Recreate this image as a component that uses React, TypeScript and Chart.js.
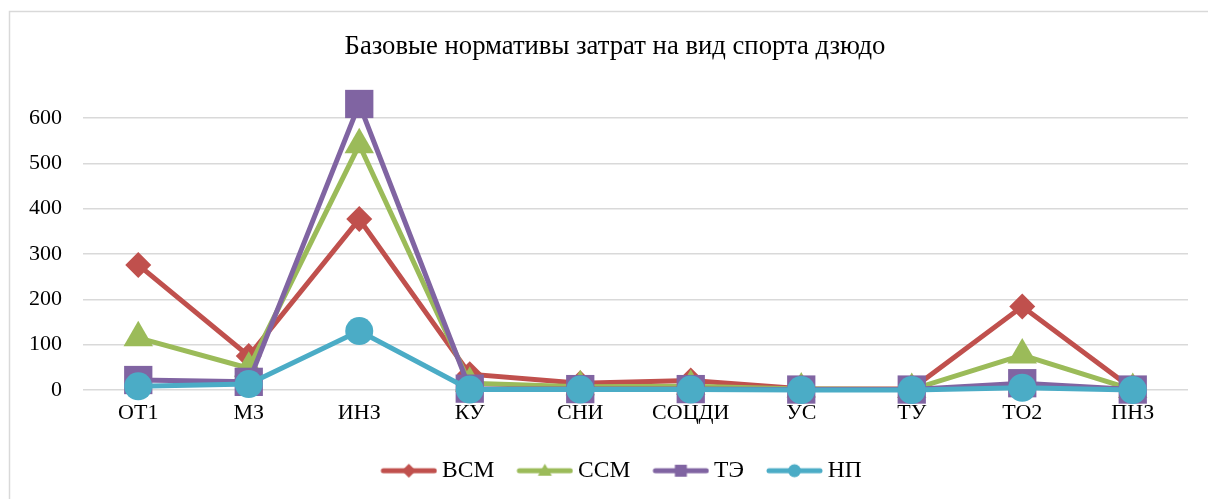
import React, { useEffect, useRef } from "react";
import { Chart, registerables } from "chart.js";

Chart.register(...registerables);

const chartTitle = "Базовые нормативы затрат на вид спорта дзюдо";
const categories = ["ОТ1", "МЗ", "ИНЗ", "КУ", "СНИ", "СОЦДИ", "УС", "ТУ", "ТО2", "ПНЗ"];
const seriesNames = ["ВСМ", "ССМ", "ТЭ", "НП"];
const vsmValues = [276, 75, 377, 35, 15, 21, 3, 2, 184, 2];
const ssmValues = [115, 48, 541, 15, 7, 8, 2, 1, 77, 1];
const teValues = [22, 18, 631, 3, 2, 2, 1, 1, 15, 1];
const npValues = [8, 13, 130, 1, 1, 1, 0, 0, 5, 0];
const yTickValues = [0, 100, 200, 300, 400, 500, 600];

const colors = ["#C0504D", "#9BBB59", "#8064A2", "#4BACC6"];
const pointStyles = ["rectRot", "triangle", "rect", "circle"];
const pointRadii = [13, 17, 20, 14];
const FONT = "'Times New Roman', 'Liberation Serif', serif";

// legend icon: canvas 76 wide, content (line + marker) in its right 57px
function legendIcon(color: string, style: string): HTMLCanvasElement {
  const c = document.createElement("canvas");
  c.width = 76;
  c.height = 20;
  const ctx = c.getContext("2d")!;
  ctx.strokeStyle = color;
  ctx.fillStyle = color;
  ctx.lineWidth = 5;
  ctx.lineCap = "round";
  ctx.beginPath();
  ctx.moveTo(22, 10);
  ctx.lineTo(73, 10);
  ctx.stroke();
  const cx = 47.5, cy = 10;
  ctx.beginPath();
  if (style === "rectRot") {
    ctx.moveTo(cx, cy - 7);
    ctx.lineTo(cx + 7, cy);
    ctx.lineTo(cx, cy + 7);
    ctx.lineTo(cx - 7, cy);
    ctx.closePath();
  } else if (style === "triangle") {
    ctx.moveTo(cx, cy - 7);
    ctx.lineTo(cx + 7, cy + 5);
    ctx.lineTo(cx - 7, cy + 5);
    ctx.closePath();
  } else if (style === "rect") {
    ctx.rect(cx - 6, cy - 6, 12, 12);
  } else {
    ctx.arc(cx, cy, 6.5, 0, Math.PI * 2);
  }
  ctx.fill();
  return c;
}

const framePlugin = {
  id: "frame",
  beforeDraw(chart: any) {
    const ctx = chart.ctx;
    ctx.save();
    ctx.fillStyle = "#ffffff";
    ctx.fillRect(0, 0, chart.width, chart.height);
    ctx.strokeStyle = "#D9D9D9";
    ctx.lineWidth = 1.5;
    ctx.strokeRect(9.5, 11.5, chart.width + 50, chart.height + 50);
    ctx.restore();
  },
};

export default function App() {
  const ref = useRef<HTMLCanvasElement | null>(null);

  useEffect(() => {
    document.body.style.margin = "0";
    const allValues = [vsmValues, ssmValues, teValues, npValues];
    const icons = seriesNames.map((_, i) => legendIcon(colors[i], pointStyles[i]));
    const chart = new Chart(ref.current!, {
      type: "line",
      data: {
        labels: categories,
        datasets: seriesNames.map((name, i) => ({
          label: name,
          data: allValues[i],
          borderColor: colors[i],
          backgroundColor: colors[i],
          pointBackgroundColor: colors[i],
          pointBorderColor: colors[i],
          borderWidth: 5,
          pointStyle: pointStyles[i] as any,
          pointRadius: pointRadii[i],
          pointHoverRadius: pointRadii[i],
          pointBorderWidth: 0,
          tension: 0,
          clip: false as any,
          order: 3 - i,
        })),
      },
      options: {
        animation: false,
        responsive: false,
        maintainAspectRatio: false,
        layout: { padding: { left: 22, right: 0, top: 25, bottom: 6.5 } },
        plugins: {
          title: {
            display: true,
            text: chartTitle,
            color: "#000000",
            font: { family: FONT, size: 26.7, weight: "normal" as any },
            padding: { top: 6, bottom: 55 },
          },
          legend: {
            position: "bottom",
            labels: {
              usePointStyle: true,
              pointStyleWidth: 62,
              padding: 10,
              color: "#000000",
              font: { family: FONT, size: 23.5 },
              generateLabels: (ch: any) => {
                const items = Chart.defaults.plugins.legend.labels.generateLabels(ch);
                items.sort((a: any, b: any) => a.datasetIndex - b.datasetIndex);
                items.forEach((it: any) => {
                  it.pointStyle = icons[it.datasetIndex];
                  it.fontColor = "#000000";
                });
                return items;
              },
            },
          },
          tooltip: { enabled: false },
        },
        scales: {
          x: {
            offset: true,
            grid: { display: false, drawTicks: false },
            border: { display: false },
            ticks: {
              color: "#000000",
              font: { family: FONT, size: 22 },
              padding: 10,
              maxRotation: 0,
              autoSkip: false,
            },
            afterFit: (s: any) => {
              s.height = 59;
            },
          },
          y: {
            min: 0,
            max: 600,
            grid: { color: "#D9D9D9", lineWidth: 1.5, drawTicks: false },
            border: { display: false },
            afterBuildTicks: (s: any) => {
              s.ticks = yTickValues.map((v) => ({ value: v }));
            },
            ticks: {
              color: "#000000",
              font: { family: FONT, size: 22 },
              padding: 21,
            },
            afterFit: (s: any) => {
              s.width = 61;
            },
          },
          yRightSpacer: {
            position: "right",
            display: true,
            grid: { display: false, drawOnChartArea: false, drawTicks: false },
            border: { display: false },
            ticks: { display: false },
            afterFit: (s: any) => {
              s.width = 16;
            },
          },
        },
      },
      plugins: [framePlugin],
    });
    return () => chart.destroy();
  }, []);

  return (
    <div style={{ position: "relative", width: 1208, height: 499 }}>
      <canvas ref={ref} width={1208} height={499} style={{ display: "block" }} />
    </div>
  );
}
